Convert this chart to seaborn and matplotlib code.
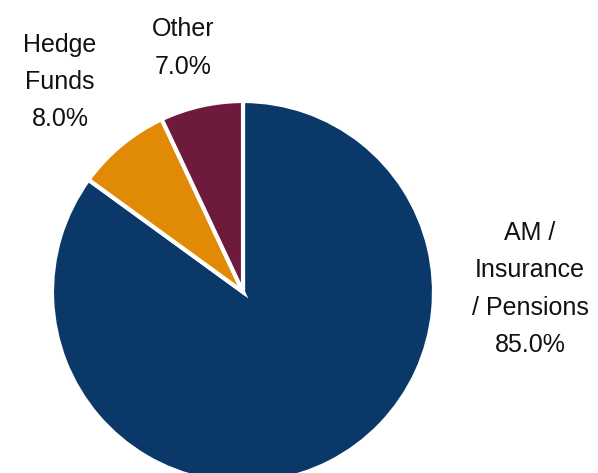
import matplotlib
matplotlib.use("Agg")
import matplotlib.pyplot as plt
import seaborn as sns

categories = ["AM /\nInsurance\n/ Pensions", "Hedge\nFunds", "Other"]
values = [85.0, 8.0, 7.0]
colors = ["#0A3868", "#E08A06", "#6D1A3C"]

sns.set_theme(style="white")
plt.rcParams["font.family"] = ["Liberation Sans", "DejaVu Sans"]

W, H = 598, 473
fig = plt.figure(figsize=(W / 100, H / 100), dpi=100)
ax = fig.add_axes([0, 0, 1, 1])

R = 191.0
cx, cy = 243.0, 292.0

wedges, _ = ax.pie(values, colors=colors, startangle=90, counterclock=False,
                   wedgeprops=dict(edgecolor="white", linewidth=3))
ax.set_aspect("auto")
ax.set_xlim(-cx / R, (W - cx) / R)
ax.set_ylim(-(H - cy) / R, cy / R)

def px(x, y):
    return (x - cx) / R, (cy - y) / R

label_pos = [(530, 289), (60, 82), (183, 48)]
for cat, v, (x, y) in zip(categories, values, label_pos):
    tx, ty = px(x, y)
    ax.text(tx, ty, f"{cat}\n{v:.1f}%", ha="center", va="center",
            multialignment="center", fontsize=18, linespacing=1.7,
            color="#111111")

fig.savefig("out.png", dpi=100)
